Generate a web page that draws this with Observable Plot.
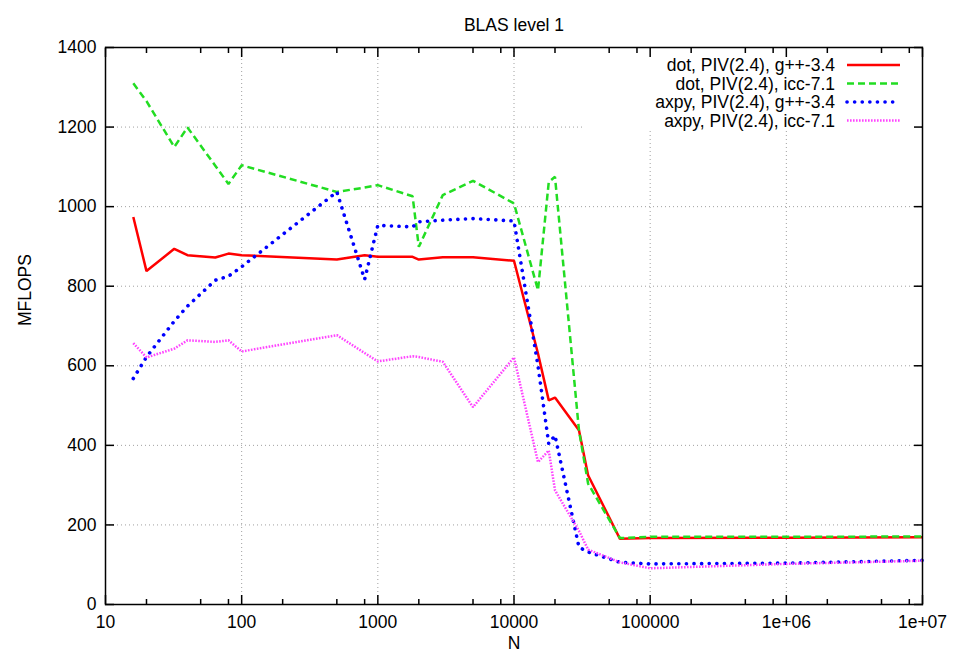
<!DOCTYPE html>
<html><head><meta charset="utf-8">
<script src="https://cdn.jsdelivr.net/npm/d3@7"></script>
<script src="https://cdn.jsdelivr.net/npm/@observablehq/plot@0.6"></script>
<style>
body{margin:0;background:#fff;}
svg{font-family:"Liberation Sans",Arial,Helvetica,sans-serif;}
</style>
</head><body><div id="chart"></div>
<script>
// ---- data ----
const N = [16, 20, 32, 40, 64, 80, 100, 500, 800, 1000, 1800, 2000, 3000, 5000, 10000, 15000, 18000, 20000, 30000, 35000, 60000, 100000, 1000000, 10000000];
const dotGpp   = [974, 838, 894, 878, 872, 882, 878, 867, 878, 874, 874, 867, 873, 873, 864, 631, 513, 520, 438, 325, 165, 167, 168, 169];
const dotIcc   = [1310, 1265, 1150, 1199, 1103, 1057, 1104, 1037, 1048, 1054, 1026, 899, 1029, 1065, 1008, 790, 1062, 1075, 438, 304, 167, 170, 170, 171];
const axpyGpp  = [568, 622, 712, 750, 815, 825, 849, 1037, 817, 953, 949, 962, 966, 970, 964, 600, 404, 425, 144, 132, 106, 102, 104, 111];
const axpyIcc  = [657, 621, 643, 664, 660, 664, 636, 677, 632, 611, 624, 622, 610, 496, 621, 358, 387, 287, 185, 138, 106, 91, 102, 110];
const seriesNames = ["dot, PIV(2.4), g++-3.4", "dot, PIV(2.4), icc-7.1", "axpy, PIV(2.4), g++-3.4", "axpy, PIV(2.4), icc-7.1"];
const seriesValues = [dotGpp, dotIcc, axpyGpp, axpyIcc];
const seriesColors = ["#ff0000", "#22dd22", "#0000ff", "#ff44ff"];
const seriesDash = [null, "7,4", "0.1,7.5", "1.6,1.4"];
const seriesWidth = [2.5, 2.5, 3.6, 2.5];
const seriesCap = ["butt", "butt", "round", "butt"];
const xMajor = [10, 100, 1000, 10000, 100000, 1000000, 10000000];
const xMajorLabels = ["10", "100", "1000", "10000", "100000", "1e+06", "1e+07"];
const xMinor = [20, 50, 80, 200, 500, 800, 2000, 5000, 8000, 20000, 50000, 80000, 200000, 500000, 800000, 2000000, 5000000, 8000000];
const yMajor = [0, 200, 400, 600, 800, 1000, 1200, 1400];
const titleText = "BLAS level 1";
const xLabel = "N";
const yLabel = "MFLOPS";

// ---- build ----
const xLabelMap = new Map(xMajor.map((v, i) => [v, xMajorLabels[i]]));
const rows = seriesNames.map((s, i) => N.map((n, j) => ({N: n, v: seriesValues[i][j], s})));
const FS = 17.5;

const gridStyle = {stroke: "#a0a0a0", strokeOpacity: 1, strokeWidth: 1, strokeDasharray: "1,3"};

const chart = Plot.plot({
  width: 955, height: 662,
  marginTop: 47, marginBottom: 58, marginLeft: 105, marginRight: 33,
  style: {fontSize: FS + "px", fontFamily: '"Liberation Sans", Arial, sans-serif', background: "#fff", color: "#000"},
  x: {type: "log", domain: [10, 1e7]},
  y: {domain: [0, 1400]},
  marks: [
    Plot.gridX(xMajor, gridStyle),
    Plot.gridY(yMajor, gridStyle),
    ...rows.map((r, i) => Plot.line(r, {x: "N", y: "v", stroke: seriesColors[i], strokeWidth: seriesWidth[i], strokeDasharray: seriesDash[i], strokeLinejoin: "miter", strokeLinecap: seriesCap[i]})),
    Plot.frame({stroke: "#000", strokeWidth: 1.5}),
    Plot.axisX(xMajor, {anchor: "bottom", tickSize: -9, fill: "none", label: null, strokeWidth: 1.5}),
    Plot.axisX(xMinor, {anchor: "bottom", tickSize: -5, fill: "none", label: null, strokeWidth: 1.5}),
    Plot.axisX(xMajor, {anchor: "top", tickSize: -9, fill: "none", label: null, strokeWidth: 1.5}),
    Plot.axisX(xMinor, {anchor: "top", tickSize: -5, fill: "none", label: null, strokeWidth: 1.5}),
    Plot.axisY(yMajor, {anchor: "left", tickSize: -9, fill: "none", label: null, strokeWidth: 1.5}),
    Plot.axisY(yMajor, {anchor: "right", tickSize: -9, fill: "none", label: null, strokeWidth: 1.5}),
    Plot.axisX(xMajor, {anchor: "bottom", tickSize: 0, tickPadding: 11, tickFormat: d => xLabelMap.get(d), label: null, fontSize: FS}),
    Plot.axisY(yMajor, {anchor: "left", tickSize: 0, tickPadding: 9, tickFormat: d => String(d), label: null, fontSize: FS}),
    Plot.text([xLabel], {frameAnchor: "bottom", dy: 44, fontSize: FS}),
    Plot.text([yLabel], {frameAnchor: "left", dx: -80, rotate: -90, fontSize: FS}),
    Plot.text([titleText], {frameAnchor: "top", dy: -29, fontSize: FS})
  ]
});
document.getElementById("chart").appendChild(chart);

// ---- legend (gnuplot-style key, top right), placed above grid, below data & axes ----
const svg = d3.select(chart);
const firstLine = chart.querySelector('g[aria-label="line"]');
const lg = d3.select(chart.insertBefore(document.createElementNS("http://www.w3.org/2000/svg", "g"), firstLine)).attr("class", "key");
lg.append("rect").attr("x", 583).attr("y", 48).attr("width", 338).attr("height", 81).attr("fill", "#fff");
seriesNames.forEach((name, i) => {
  const y = 65 + i * 18.5;
  lg.append("text").attr("x", 835).attr("y", y).attr("dy", "0.35em").attr("text-anchor", "end")
    .attr("font-size", FS).attr("fill", "#000").text(name);
  lg.append("line").attr("x1", 847).attr("x2", 900).attr("y1", y).attr("y2", y)
    .attr("stroke", seriesColors[i]).attr("stroke-width", seriesWidth[i])
    .attr("stroke-dasharray", seriesDash[i]).attr("stroke-linecap", seriesCap[i]);
});
</script>
</body></html>
